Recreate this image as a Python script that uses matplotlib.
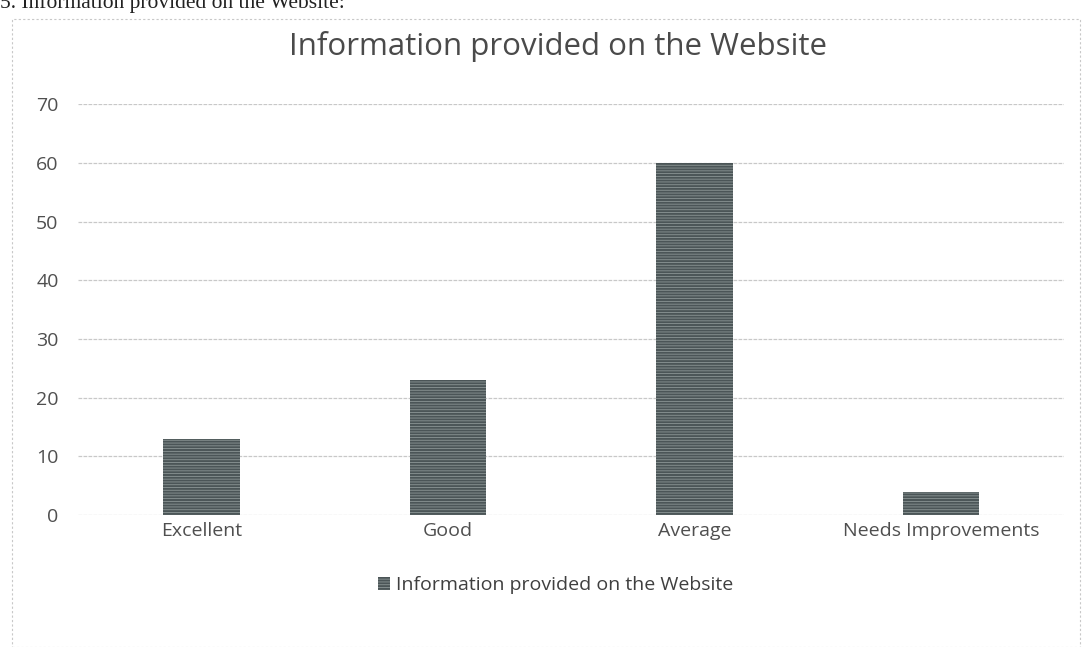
import matplotlib
matplotlib.use("Agg")
import matplotlib.pyplot as plt
from matplotlib.patches import Rectangle

categories = ["Excellent", "Good", "Average", "Needs Improvements"]
values = [13, 23, 60, 4]
yticks = [0, 10, 20, 30, 40, 50, 60, 70]
series_name = "Information provided on the Website"
title = "Information provided on the Website"
heading = "5. Information provided on the Website:"

plt.rcParams['hatch.color'] = '#8c9696'
plt.rcParams['hatch.linewidth'] = 0.6

fig = plt.figure(figsize=(10.84, 6.47), dpi=100)
fig.patch.set_facecolor('white')
ax = fig.add_axes([0.072, 0.204, 0.910, 0.635])

x = list(range(len(categories)))
ax.bar(x, values, width=0.31, color='#4b5557', hatch='------', edgecolor='#8c9696',
       linewidth=0, label=series_name, zorder=3)
ax.set_xlim(-0.5, len(categories) - 0.5)
ax.set_ylim(0, 70)
ax.set_yticks(yticks)
ax.set_xticks(x)
ax.set_xticklabels(categories)
ax.yaxis.grid(True, color='#c8c8c8', linewidth=0.9, linestyle=(0, (3, 1)))
ax.set_axisbelow(True)
for s in ax.spines.values():
    s.set_visible(False)
ax.tick_params(axis='both', length=0, labelsize=14, colors='#4f4f4f', labelfontfamily='Open Sans')
ax.tick_params(axis='y', pad=14)
ax.tick_params(axis='x', pad=5)

fig.text(0.515, 0.928, title, ha='center', va='center', fontsize=22.5, color='#4a4a4a', family='Open Sans')
fig.text(0.0, 1 - 8 / 647, heading, ha='left', va='baseline', fontsize=15.5, color='#222222',
         family='Liberation Serif')

leg = ax.legend(loc='center', bbox_to_anchor=(0.484, -0.171), frameon=False,
                prop={'family': 'Open Sans', 'size': 14}, handlelength=0.6, handleheight=0.6,
                handletextpad=0.3)
for t in leg.get_texts():
    t.set_color('#3f3f3f')

fig.patches.append(Rectangle((0.011, 0.0), 0.985, 0.970, transform=fig.transFigure, fill=False,
                             edgecolor='#c8c8c8', linewidth=0.8, linestyle=(0, (2, 2))))

fig.savefig("out.png", dpi=100)
